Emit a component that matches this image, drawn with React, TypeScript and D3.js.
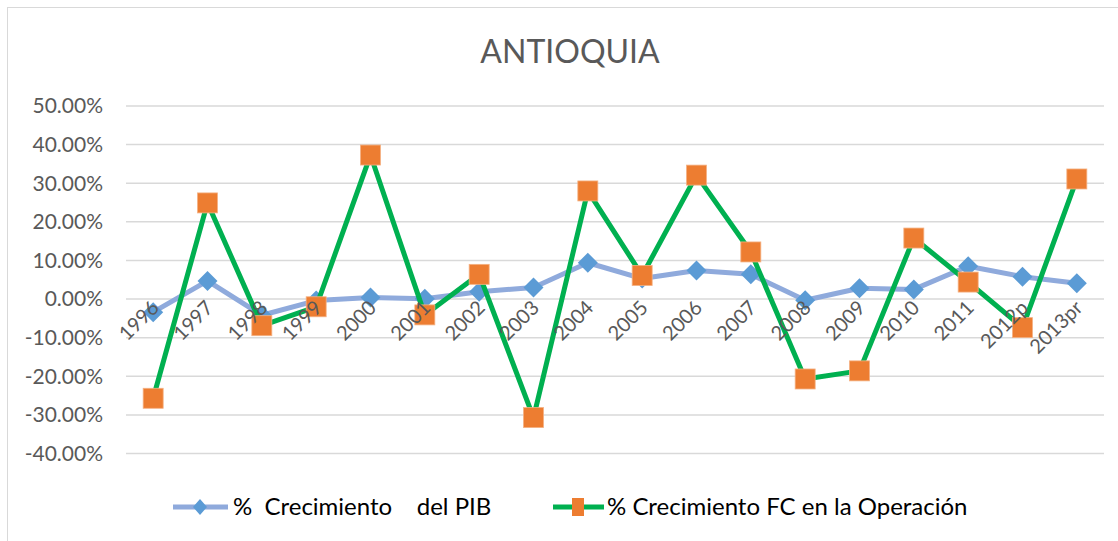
import React from 'react';
import * as d3 from 'd3';

const years = ['1996', '1997', '1998', '1999', '2000', '2001', '2002', '2003', '2004',
  '2005', '2006', '2007', '2008', '2009', '2010', '2011', '2012p', '2013pr'];

// % crecimiento del PIB
const pib = [-3.4, 4.7, -4.2, -0.4, 0.4, 0.1, 1.9, 3.0, 9.4, 5.3, 7.4, 6.4, -0.3, 2.8, 2.5, 8.5, 5.8, 4.1];
// % crecimiento FC en la operacion
const fc = [-25.7, 24.9, -6.9, -2.0, 37.3, -4.1, 6.4, -30.7, 28.0, 6.1, 32.1, 12.2, -20.7, -18.6, 15.8, 4.4, -7.4, 31.1];

const yTicks = [50, 40, 30, 20, 10, 0, -10, -20, -30, -40];

const W = 1118;
const H = 541;
const font = 'Lato, "Open Sans", sans-serif';
const txt = '#595959';

export default function App() {
  const x = d3.scalePoint<string>().domain(years).range([126, 1104]).padding(0.5);
  const y = d3.scaleLinear().domain([-40, 50]).range([453.5, 106]);

  const line = d3.line<number>()
    .x((d, i) => x(years[i]) as number)
    .y(d => y(d));

  const diamond = (cx: number, cy: number, rx: number, ry: number) =>
    `M${cx},${cy - ry}L${cx + rx},${cy}L${cx},${cy + ry}L${cx - rx},${cy}Z`;

  return (
    <svg width={W} height={H} style={{ position: 'absolute', left: 0, top: 0, background: '#fff' }}>
      <rect x={7.5} y={7.5} width={1200} height={600} fill="#fff" stroke="#d9d9d9" />
      <text x={570} y={63} textAnchor="middle" fontFamily={font} fontSize={32} fill={txt}>ANTIOQUIA</text>

      {/* grid + y labels */}
      {yTicks.map(t => (
        <g key={t}>
          <line x1={126} x2={1104} y1={y(t)} y2={y(t)} stroke="#d9d9d9" strokeWidth={1.5} />
          <text x={103} y={y(t)} dy="0.35em" textAnchor="end" fontFamily={font} fontSize={21} fill={txt}>
            {t.toFixed(2) + '%'}
          </text>
        </g>
      ))}

      {/* PIB series */}
      <path d={line(pib) || ''} fill="none" stroke="#8faadc" strokeWidth={5} strokeLinejoin="round" />
      {pib.map((v, i) => (
        <path key={'p' + i} d={diamond(x(years[i]) as number, y(v), 10, 10)} fill="#5b9bd5" />
      ))}

      {/* FC series */}
      <path d={line(fc) || ''} fill="none" stroke="#00b050" strokeWidth={5} strokeLinejoin="round" />
      {fc.map((v, i) => (
        <rect key={'f' + i} x={(x(years[i]) as number) - 10} y={y(v) - 10} width={20} height={20}
          fill="#ed7d31" stroke="#f4b183" strokeWidth={0.8} />
      ))}

      {/* category labels */}
      {years.map(yr => {
        const cx = (x(yr) as number) + 7;
        const cy = y(0) + 10;
        return (
          <text key={yr} x={cx} y={cy} transform={`rotate(-45 ${cx} ${cy})`} textAnchor="end"
            fontFamily={font} fontSize={20} fill={txt}>{yr}</text>
        );
      })}

      {/* legend */}
      <line x1={173} x2={228} y1={507} y2={507} stroke="#8faadc" strokeWidth={5} />
      <path d={diamond(200, 507, 7, 8)} fill="#5b9bd5" />
      <text x={233} y={507} dy="0.35em" fontFamily={font} fontSize={24} fill="#000" style={{ whiteSpace: 'pre' }}>
        {'%  Crecimiento    del PIB'}
      </text>
      <line x1={553} x2={604} y1={507} y2={507} stroke="#00b050" strokeWidth={5} />
      <rect x={572} y={498} width={12} height={18} fill="#ed7d31" />
      <text x={607} y={507} dy="0.35em" fontFamily={font} fontSize={24} fill="#000">
        % Crecimiento FC en la Operación
      </text>
    </svg>
  );
}
